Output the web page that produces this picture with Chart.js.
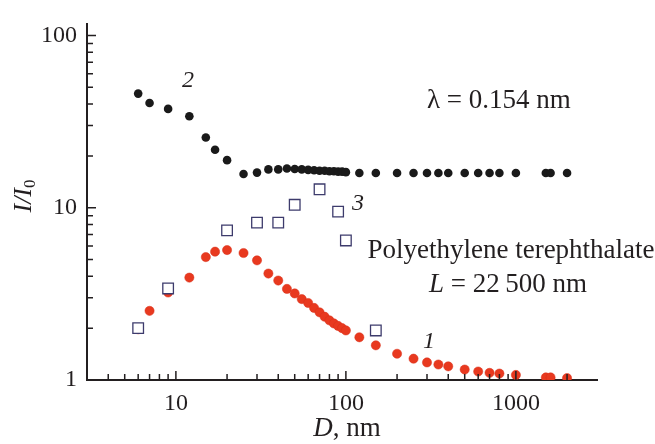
<!DOCTYPE html>
<html lang="en">
<head>
    <meta charset="UTF-8">
    <title>I/I0 vs D</title>
    <script src="https://cdn.jsdelivr.net/npm/chart.js"></script>
    <style>
        body { margin: 0; background: #fff; }
        .chart-box { width: 655px; height: 444px; position: relative; }
    </style>
</head>
<body>
    <div class="chart-box">
        <canvas id="myChart"></canvas>
    </div>

    <script>
        // curve 2 (black dots)
        const d2 = [6, 7, 9, 12, 15, 17, 20, 25, 30, 35, 40, 45, 50, 55, 60, 65, 70, 75, 80, 85, 90, 95, 100,
            120, 150, 200, 250, 300, 350, 400, 500, 600, 700, 800, 1000, 1500, 1600, 2000];
        const i2 = [46, 40.6, 37.5, 34, 25.6, 21.7, 18.9, 15.7, 16, 16.7, 16.7, 16.9, 16.8, 16.7, 16.6, 16.5, 16.4, 16.4, 16.3, 16.3, 16.2, 16.2, 16.1,
            15.9, 15.9, 15.9, 15.9, 15.9, 15.9, 15.9, 15.9, 15.9, 15.9, 15.9, 15.9, 15.9, 15.9, 15.9];

        // curve 1 (red dots)
        const d1 = [6, 7, 9, 12, 15, 17, 20, 25, 30, 35, 40, 45, 50, 55, 60, 65, 70, 75, 80, 85, 90, 95, 100,
            120, 150, 200, 250, 300, 350, 400, 500, 600, 700, 800, 1000, 1500, 1600, 2000];
        const i1 = [1.97, 2.52, 3.22, 3.93, 5.17, 5.56, 5.68, 5.46, 4.95, 4.15, 3.78, 3.38, 3.18, 2.95, 2.8, 2.62, 2.47, 2.33, 2.22, 2.13, 2.06, 2.0, 1.94,
            1.77, 1.59, 1.42, 1.33, 1.265, 1.23, 1.2, 1.15, 1.12, 1.1, 1.09, 1.07, 1.035, 1.035, 1.026];

        // curve 3 (open squares)
        const d3 = [6, 9, 20, 30, 40, 50, 70, 90, 100, 150];
        const i3 = [2.0, 3.4, 7.39, 8.2, 8.2, 10.4, 12.8, 9.5, 6.46, 1.94];

        const xTickLabels = [10, 100, 1000];
        const yTickLabels = [1, 10, 100];

        const serif = '"Liberation Serif", "Times New Roman", serif';
        const ink = '#231f20';

        function toPoints(xs, ys) {
            return xs.map((x, k) => ({ x: x, y: ys[k] }));
        }

        // inward ticks, axis titles and labels
        const decorations = {
            id: 'decorations',
            afterDraw(chart) {
                const ctx = chart.ctx;
                const xs = chart.scales.x, ys = chart.scales.y;
                const area = chart.chartArea;
                ctx.save();
                ctx.strokeStyle = ink;
                ctx.lineWidth = 1.5;
                ctx.beginPath();
                [1, 10, 100, 1000].forEach(dec => {
                    for (let k = 1; k <= 9; k++) {
                        const v = k * dec;
                        if (v > xs.min && v < xs.max) {
                            const px = xs.getPixelForValue(v);
                            ctx.moveTo(px, area.bottom);
                            ctx.lineTo(px, area.bottom - (k === 1 ? 9 : 6));
                        }
                    }
                });
                [1, 10, 100].forEach(dec => {
                    for (let k = 1; k <= 9; k++) {
                        const v = k * dec;
                        if (v > ys.min && v < ys.max) {
                            const py = ys.getPixelForValue(v);
                            ctx.moveTo(area.left, py);
                            ctx.lineTo(area.left + (k === 1 ? 9 : 6), py);
                        }
                    }
                });
                ctx.stroke();

                ctx.fillStyle = ink;
                ctx.textBaseline = 'alphabetic';

                // curve numbers
                ctx.font = 'italic 24px ' + serif;
                ctx.textAlign = 'center';
                ctx.fillText('2', 188, 87);
                ctx.fillText('3', 358, 210);
                ctx.fillText('1', 429, 348);

                ctx.font = '27px ' + serif;
                ctx.textAlign = 'left';
                ctx.fillText('λ = 0.154 nm', 427, 108);
                ctx.textAlign = 'center';
                ctx.fillText('Polyethylene terephthalate', 511, 258);

                // mixed italic / upright lines
                function mixed(parts, cx, by, size) {
                    let total = 0;
                    parts.forEach(p => { ctx.font = p[1] + ' ' + size + 'px ' + serif; total += ctx.measureText(p[0]).width; });
                    let x = cx - total / 2;
                    ctx.textAlign = 'left';
                    parts.forEach(p => {
                        ctx.font = p[1] + ' ' + size + 'px ' + serif;
                        ctx.fillText(p[0], x, by);
                        x += ctx.measureText(p[0]).width;
                    });
                }
                mixed([['L', 'italic'], [' = 22\u2009500 nm', 'normal']], 508, 292, 27);
                mixed([['D', 'italic'], [', nm', 'normal']], 347, 436, 27);

                // y title I/I0
                ctx.translate(31, 196);
                ctx.rotate(-Math.PI / 2);
                ctx.font = 'italic 26px ' + serif;
                const w1 = ctx.measureText('I/I').width;
                ctx.font = '17px ' + serif;
                const w2 = ctx.measureText('0').width;
                const x0 = -(w1 + w2) / 2;
                ctx.font = 'italic 26px ' + serif;
                ctx.fillText('I/I', x0, 0);
                ctx.font = '17px ' + serif;
                ctx.fillText('0', x0 + w1, 4);
                ctx.restore();
            }
        };

        const config = {
            type: 'scatter',
            data: {
                datasets: [
                    {
                        label: '3',
                        data: toPoints(d3, i3),
                        pointStyle: 'rect',
                        pointRadius: 7.5,
                        backgroundColor: '#ffffff',
                        borderColor: '#3d3b6c',
                        borderWidth: 1.3,
                        order: 0
                    },
                    {
                        label: '1',
                        data: toPoints(d1, i1),
                        pointRadius: 4.6,
                        backgroundColor: '#e8391f',
                        borderColor: '#d8301a',
                        borderWidth: 0.5,
                        order: 1
                    },
                    {
                        label: '2',
                        data: toPoints(d2, i2),
                        pointRadius: 4.3,
                        backgroundColor: '#1a1a1a',
                        borderColor: '#1a1a1a',
                        borderWidth: 0,
                        order: 2
                    }
                ]
            },
            options: {
                responsive: false,
                animation: false,
                layout: { padding: { top: 10, right: 58, bottom: 0, left: 0 } },
                plugins: {
                    legend: { display: false },
                    tooltip: { enabled: false }
                },
                scales: {
                    x: {
                        type: 'logarithmic',
                        min: 3,
                        max: 3000,
                        grid: { display: false, drawTicks: false },
                        border: { display: true, color: ink, width: 2 },
                        afterBuildTicks: s => { s.ticks = xTickLabels.map(v => ({ value: v })); },
                        afterFit: s => { s.height = 64; },
                        ticks: {
                            padding: 9,
                            color: ink,
                            font: { family: serif, size: 24 },
                            maxRotation: 0,
                            callback: v => String(v)
                        }
                    },
                    y: {
                        type: 'logarithmic',
                        min: 1,
                        max: 116,
                        grid: { display: false, drawTicks: false },
                        border: { display: true, color: ink, width: 2 },
                        afterBuildTicks: s => { s.ticks = yTickLabels.map(v => ({ value: v })); },
                        afterFit: s => { s.width = 87; },
                        ticks: {
                            padding: 10,
                            color: ink,
                            font: { family: serif, size: 24 },
                            callback: v => String(v)
                        }
                    }
                }
            },
            plugins: [decorations]
        };

        const canvas = document.getElementById('myChart');
        canvas.width = 655;
        canvas.height = 444;
        const myChart = new Chart(canvas, config);
    </script>
</body>
</html>
